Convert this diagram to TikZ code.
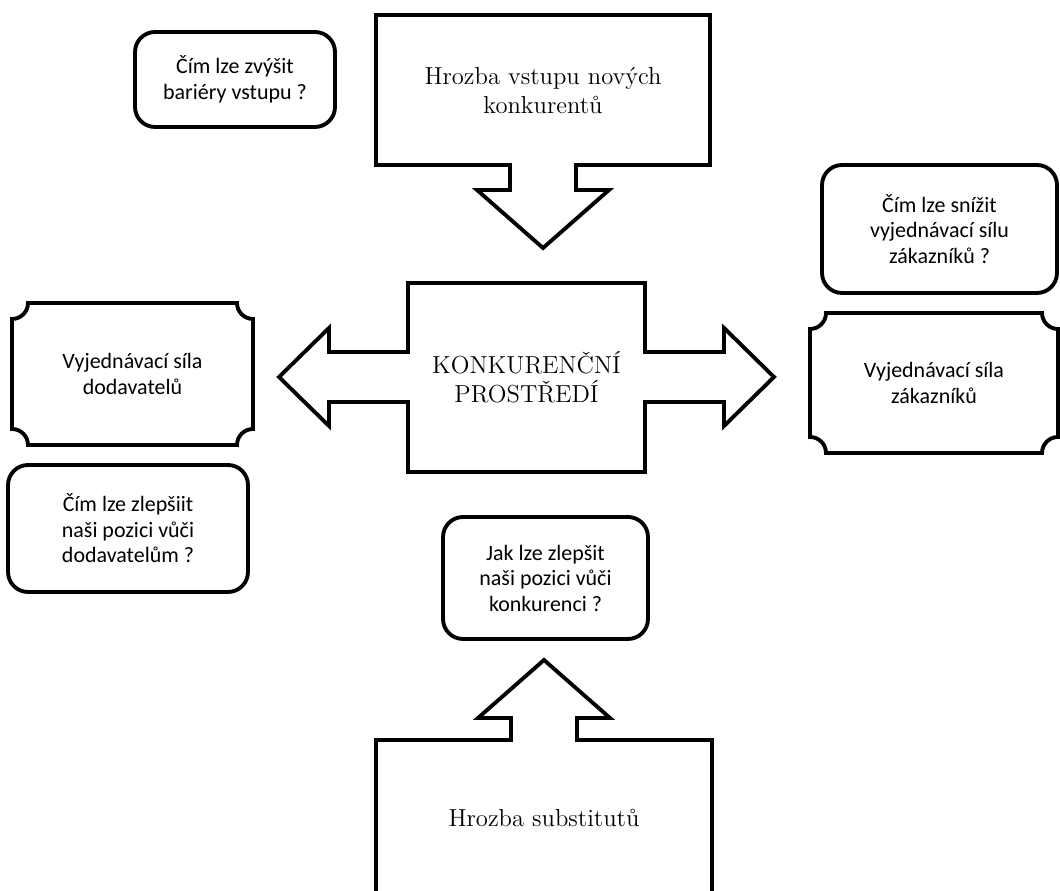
\documentclass[tikz,border=0pt]{standalone}
\usepackage{fontspec}
\newfontfamily\boxfont{Carlito}
\usetikzlibrary{positioning}

\newcommand\drawplaque[5]{%
  \draw (#1+#5,#4) -- (#3-#5,#4) arc[start angle=180,end angle=270,radius=#5]
    -- (#3,#2+#5) arc[start angle=90,end angle=180,radius=#5]
    -- (#1+#5,#2) arc[start angle=0,end angle=90,radius=#5]
    -- (#1,#4-#5) arc[start angle=270,end angle=360,radius=#5] -- cycle;}

\begin{document}
\begin{tikzpicture}[x=0.02cm,y=0.02cm,line width=2.2pt,line join=miter,
  every node/.style={align=center,inner sep=0pt},
  question/.style={draw,rounded corners=0.4cm,font=\boxfont\fontsize{12.5}{14.5}\selectfont},
  force/.style={font=\boxfont\fontsize{12.5}{14.5}\selectfont},
  threat/.style={font=\fontsize{14}{16.5}\selectfont}]
  \useasboundingbox (0,0) rectangle (1060,891);

  % hrozba vstupu
  \draw (376,876) -- (710,876) -- (710,726) -- (576,726) -- (576,701) -- (609,701)
    -- (543,643) -- (477,701) -- (510,701) -- (510,726) -- (376,726) -- cycle;
  \node[threat] (entry) at (543,800) {Hrozba vstupu nových\\konkurentů};

  % konkurencni prostredi
  \draw (408,608) -- (645,608) -- (645,539) -- (724,539) -- (724,563) -- (774,514)
    -- (724,465) -- (724,489) -- (645,489) -- (645,419) -- (408,419) -- (408,489)
    -- (329,489) -- (329,465) -- (279,514) -- (329,563) -- (329,539) -- (408,539) -- cycle;
  \node[font=\fontsize{14}{16.5}\selectfont] (market) at (526.5,514) {KONKURENČNÍ\\PROSTŘEDÍ};

  % hrozba substitutu
  \draw (376,-2) -- (376,151) -- (511,151) -- (511,173) -- (478,173) -- (544,231)
    -- (610,173) -- (577,173) -- (577,151) -- (712,151) -- (712,-2);
  \node[threat] (subst) at (544,73) {Hrozba substitutů};

  % dodavatele a zakaznici
  \drawplaque{12}{446}{253}{588}{16}
  \node[force] (supp) at (132.5,517) {Vyjednávací síla\\dodavatelů};
  \drawplaque{810}{438}{1058}{578}{16}
  \node[force] (cust) at (934,508) {Vyjednávací síla\\zákazníků};

  % otazky
  \node[question,minimum width=4cm,minimum height=1.9cm] (bar) at (235,811.5)
    {Čím lze zvýšit\\bariéry vstupu ?};
  \node[question,minimum width=4.7cm,minimum height=2.56cm] (custq) at (939.5,662)
    {Čím lze snížit\\vyjednávací sílu\\zákazníků ?};
  \node[question,minimum width=4.8cm,minimum height=2.54cm] (suppq) at (128,362.5)
    {Čím lze zlepšiit\\naši pozici vůči\\dodavatelům ?};
  \node[question,minimum width=4.1cm,minimum height=2.44cm] (rivq) at (545.5,313)
    {Jak lze zlepšit\\naši pozici vůči\\konkurenci ?};
\end{tikzpicture}
\end{document}
